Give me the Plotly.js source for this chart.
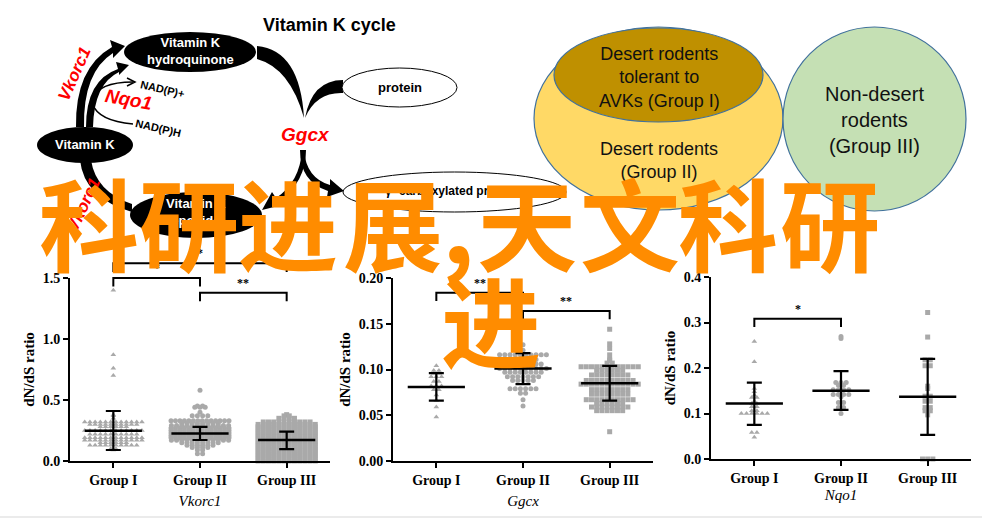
<!DOCTYPE html>
<html><head><meta charset="utf-8">
<script src="https://cdn.plot.ly/plotly-3.0.1.min.js"></script>
<style>html,body{margin:0;padding:0;background:#fff}#chart{width:982px;height:518px}</style>
</head><body><div id="chart"></div>
<script>
// ---------------- DATA ----------------
const groups = ['Group I', 'Group II', 'Group III'];
const genes = ['Vkorc1', 'Ggcx', 'Nqo1'];
const yLabel = 'dN/dS ratio';

// Vkorc1 dN/dS values per group
const vkorc1_G1 = [1.40,0.87,0.76,0.70,0.38,0.37,0.35,
0.32,0.32,0.32,0.32,0.32,0.32,0.32,0.32,0.32,0.32,0.32,0.32,
0.30,0.30,0.30,0.30,0.30,0.30,0.30,0.30,0.30,0.30,
0.28,0.28,0.28,0.28,0.28,0.28,
0.25,0.25,0.25,0.25,0.25,0.25,0.25,0.25,0.25,0.25,0.25,0.25,
0.22,0.22,0.22,0.22,0.22,0.22,0.22,0.22,0.22,0.22,
0.19,0.19,0.19,0.19,0.19,0.19,0.19,0.19,0.19,0.19,0.19,0.19,
0.17,0.17,0.17,0.17,0.17,0.17,0.17,0.17,0.17,0.17,0.17,0.17,
0.15,0.15,0.15,0.15,0.15,0.15,
0.13,0.13,0.13,0.13,0.13,0.13,0.13,0.13,0.13,0.13,
0.10,0.10,0.09];
const vkorc1_G2 = [0.58,0.45,0.45,0.44,0.44,0.44,0.40,0.37,0.37,0.37,0.37,
0.33,0.33,0.33,0.33,0.33,0.33,0.33,0.33,0.33,0.33,0.33,0.33,0.33,0.33,
0.31,0.31,0.31,0.31,0.31,0.31,0.31,0.31,
0.29,0.29,0.29,0.29,0.29,0.29,0.29,0.29,0.29,0.29,0.29,0.29,
0.27,0.27,0.27,0.27,0.27,0.27,0.27,0.27,0.27,0.27,0.27,0.27,0.27,0.27,
0.25,0.25,0.25,0.25,0.25,0.25,0.25,0.25,0.25,0.25,0.25,0.25,0.25,0.25,
0.23,0.23,0.23,0.23,0.23,0.23,0.23,0.23,0.23,0.23,0.23,0.23,0.23,0.23,
0.21,0.21,0.21,0.21,0.21,0.21,0.21,0.21,0.21,0.21,0.21,0.21,0.21,0.21,
0.19,0.19,0.19,0.19,0.19,0.19,0.19,0.19,0.19,0.19,0.19,0.19,0.19,0.19,
0.17,0.17,0.17,0.17,0.17,0.17,0.17,0.17,0.17,0.17,0.17,0.17,
0.15,0.15,0.15,0.15,0.15,0.15,0.15,0.15,
0.13,0.13,0.13,0.13,0.13,0.13,
0.11,0.11,0.11,0.11,
0.09,0.09,0.06,0.06];
const vkorc1_G3 = [0.38,0.37,0.37,
0.35,0.35,0.35,0.35,
0.32,0.32,0.32,0.32,0.32,0.32,0.32,0.32,0.32,0.32,
0.30,0.30,0.30,0.30,0.30,0.30,0.30,0.30,0.30,0.30,0.30,0.30,
0.28,0.28,0.28,0.28,0.28,0.28,0.28,0.28,0.28,0.28,0.28,0.28,
0.26,0.26,0.26,0.26,0.26,0.26,0.26,0.26,0.26,0.26,0.26,0.26,
0.24,0.24,0.24,0.24,0.24,0.24,0.24,0.24,0.24,0.24,0.24,0.24,
0.22,0.22,0.22,0.22,0.22,0.22,0.22,0.22,0.22,0.22,0.22,0.22,
0.20,0.20,0.20,0.20,0.20,0.20,0.20,0.20,0.20,0.20,0.20,0.20,
0.18,0.18,0.18,0.18,0.18,0.18,0.18,0.18,0.18,0.18,0.18,0.18,
0.16,0.16,0.16,0.16,0.16,0.16,0.16,0.16,0.16,0.16,0.16,0.16,
0.14,0.14,0.14,0.14,0.14,0.14,0.14,0.14,0.14,0.14,0.14,0.14,
0.12,0.12,0.12,0.12,0.12,0.12,0.12,0.12,0.12,0.12,0.12,0.12,
0.10,0.10,0.10,0.10,0.10,0.10,0.10,0.10,0.10,0.10,0.10,0.10,
0.08,0.08,0.08,0.08,0.08,0.08,0.08,0.08,0.08,0.08,0.08,0.08,
0.06,0.06,0.06,0.06,0.06,0.06,0.06,0.06,0.06,0.06,0.06,0.06,
0.04,0.04,0.04,0.04,0.04,0.04,0.04,0.04,0.04,0.04,0.04,0.04,
0.02,0.02,0.02,0.02,0.02,0.02,0.02,0.02,0.02,0.02,0.02,0.02,
0.00,0.00,0.00,0.00,0.00,0.00,0.00,0.00,0.00,0.00,0.00,0.00];
const vkorc1_mean = [0.247, 0.226, 0.172];
const vkorc1_lo   = [0.090, 0.172, 0.098];
const vkorc1_hi   = [0.410, 0.280, 0.240];

// Ggcx dN/dS values per group
const ggcx_G1 = [0.104,0.099,0.099,0.096,0.096,0.092,0.092,0.092,0.087,0.087,
0.082,0.082,0.082,0.078,0.078,0.072,0.066,0.059,0.048];
const ggcx_G2 = [0.147,0.127,0.121,
0.116,0.116,0.116,0.116,0.116,0.116,0.116,0.116,0.116,0.116,
0.111,0.111,0.111,0.111,0.111,0.111,
0.106,0.106,0.106,0.106,0.106,0.106,0.106,0.106,
0.101,0.101,0.101,0.101,0.101,0.101,0.101,0.101,0.101,0.101,
0.097,0.097,0.097,0.097,0.097,0.097,0.097,0.097,
0.092,0.092,0.092,0.092,0.092,0.092,0.092,
0.088,0.088,0.088,0.088,0.088,
0.079,0.079,0.079,0.079,0.079,0.079,
0.074,0.074,0.067,0.060];
const ggcx_G3 = [0.144,0.128,0.123,0.116,0.111,0.110,0.107,0.107,
0.103,0.103,0.103,0.103,0.103,0.103,0.103,0.103,0.103,0.103,0.103,0.103,
0.099,0.099,0.099,0.099,0.099,0.099,
0.094,0.094,0.094,0.094,0.094,0.094,0.094,0.094,
0.088,0.088,0.088,0.088,0.088,0.088,0.088,0.088,0.088,0.088,
0.084,0.084,0.084,0.084,0.084,0.084,0.084,0.084,0.084,0.084,0.084,0.084,
0.078,0.078,0.078,0.078,0.078,0.078,0.078,0.078,
0.073,0.073,0.073,0.073,0.073,0.073,0.073,0.073,
0.067,0.067,0.067,0.067,0.067,0.067,0.067,0.067,0.067,0.067,
0.063,0.063,0.063,0.063,0.063,0.063,
0.059,0.059,0.059,0.059,0.059,0.059,0.059,0.059,
0.055,0.055,0.055,0.055,0.055,0.055,
0.032];
const ggcx_mean = [0.081, 0.101, 0.085];
const ggcx_lo   = [0.066, 0.084, 0.066];
const ggcx_hi   = [0.096, 0.118, 0.104];

// Nqo1 dN/dS values per group
const nqo1_G1 = [0.258,0.214,0.155,0.148,0.140,0.135,0.135,0.127,0.122,0.122,
0.115,0.115,0.106,0.106,0.100,0.100,0.100,0.100,0.100,0.100,0.058,0.058,0.048];
const nqo1_G2 = [0.269,0.265,0.168,0.168,0.168,0.162,0.162,0.152,0.152,0.152,0.152,
0.142,0.142,0.142,0.142,0.137,0.124,0.124,0.113,0.113,0.100];
const nqo1_G3 = [0.322,0.268,0.218,0.218,0.205,0.205,0.160,0.155,0.138,0.138,
0.127,0.127,0.113,0.113,0.106,0.106,0.097,0.000,0.000,0.000];
const nqo1_mean = [0.122, 0.150, 0.137];
const nqo1_lo   = [0.075, 0.108, 0.053];
const nqo1_hi   = [0.168, 0.193, 0.220];

// significance brackets (group a to group b, level, leg drop, label)
const vkorc1_sig = [{a:0,b:2,y:1.62,drop:0.07,label:'*'},{a:0,b:1,y:1.50,drop:0.07,label:'*'},{a:1,b:2,y:1.38,drop:0.07,label:'**'}];
const ggcx_sig = [{a:0,b:1,y:0.184,drop:0.009,label:'**'},{a:1,b:2,y:0.164,drop:0.009,label:'**'}];
const nqo1_sig = [{a:0,b:1,y:0.308,drop:0.018,label:'*'}];

const yMax = [1.5, 0.2, 0.4];
const yTickVals = [[0,0.5,1.0,1.5],[0,0.05,0.10,0.15,0.20],[0,0.1,0.2,0.3,0.4]];
const yTickText = [['0.0','0.5','1.0','1.5'],['0.00','0.05','0.10','0.15','0.20'],['0.0','0.1','0.2','0.3','0.4']];

// Diagram / Venn / banner texts
const cycleTitle = 'Vitamin K cycle';
const vennTexts = ['Desert rodents<br>tolerant to<br>AVKs (Group I)', 'Desert rodents<br>(Group II)', 'Non-desert<br>rodents<br>(Group III)'];
const bannerChars = ['科','研','进','展',',','天','文','科','研','进'];

// ---------------- LAYOUT / STYLE ----------------
const W = 982, H = 518;
const panelPos = [
  {xa:'x',  ya:'y',  left:70,  right:330, bottom:461, top:278, xTitleStandoff:9},
  {xa:'x2', ya:'y2', left:393, right:653, bottom:461, top:278, xTitleStandoff:9},
  {xa:'x3', ya:'y3', left:711, right:971, bottom:459, top:277, xTitleStandoff:5}
];
const sets = [
  {vals:[vkorc1_G1,vkorc1_G2,vkorc1_G3], mean:vkorc1_mean, lo:vkorc1_lo, hi:vkorc1_hi, sig:vkorc1_sig},
  {vals:[ggcx_G1,ggcx_G2,ggcx_G3], mean:ggcx_mean, lo:ggcx_lo, hi:ggcx_hi, sig:ggcx_sig},
  {vals:[nqo1_G1,nqo1_G2,nqo1_G3], mean:nqo1_mean, lo:nqo1_lo, hi:nqo1_hi, sig:nqo1_sig}
];
const symbols = ['triangle-up','circle','square'];
const grey = '#a9a9a9';
const serif = 'Liberation Serif';
const sans = 'Liberation Sans';

function pxX(p, v){ const P = panelPos[p]; return P.left + (v + 0.5) / 3 * (P.right - P.left); }
function pxY(p, v){ const P = panelPos[p]; return P.bottom - v / yMax[p] * (P.bottom - P.top); }

// spread points sharing the same value side by side (dot-plot rows)
function swarm(values, center, pxPerUnit){
  const rows = new Map();
  values.forEach(v => { const k = v.toFixed(4); if(!rows.has(k)) rows.set(k, []); rows.get(k).push(v); });
  const xs = [], ys = [];
  rows.forEach(arr => {
    const n = arr.length;
    const sp = n > 1 ? Math.min(5.2, 58 / (n - 1)) : 0;
    arr.forEach((v, i) => { xs.push(center + (i - (n - 1) / 2) * sp / pxPerUnit); ys.push(v); });
  });
  return {xs, ys};
}

const traces = [];
const layout = {
  width: W, height: H, margin:{l:0,r:0,t:0,b:0},
  paper_bgcolor:'#ffffff', plot_bgcolor:'rgba(0,0,0,0)',
  showlegend:false, shapes:[], annotations:[],
  font:{family:sans, color:'#000'}
};

panelPos.forEach((P, p) => {
  const S = sets[p];
  const pxPerUnit = (P.right - P.left) / 3;
  S.vals.forEach((vals, g) => {
    const sw = swarm(vals, g, pxPerUnit);
    traces.push({type:'scatter', mode:'markers', x:sw.xs, y:sw.ys, xaxis:P.xa, yaxis:P.ya,
      marker:{symbol:symbols[g], size:5, color:grey, line:{width:0}}, cliponaxis:false, hoverinfo:'skip'});
  });
  // mean lines
  const mx = [], my = [];
  S.mean.forEach((m, g) => { mx.push(g - 0.33, g + 0.33, null); my.push(m, m, null); });
  traces.push({type:'scatter', mode:'lines', x:mx, y:my, xaxis:P.xa, yaxis:P.ya,
    line:{color:'#000', width:2.5}, hoverinfo:'skip', cliponaxis:false});
  // SD error bars
  traces.push({type:'scatter', mode:'markers', x:[0,1,2], y:S.mean, xaxis:P.xa, yaxis:P.ya,
    marker:{size:1, color:'rgba(0,0,0,0)'}, hoverinfo:'skip',
    error_y:{type:'data', symmetric:false, array:S.hi.map((h,i)=>h - S.mean[i]),
      arrayminus:S.mean.map((m,i)=>m - S.lo[i]), color:'#000', thickness:2.2, width:7.5}});

  const sfx = p ? String(p + 1) : '';
  layout['xaxis' + sfx] = {domain:[P.left / W, P.right / W], range:[-0.5, 2.5], anchor:P.ya,
    showline:true, linecolor:'#000', linewidth:2, ticks:'outside', ticklen:5, tickwidth:2, tickcolor:'#000',
    tickvals:[0,1,2], ticktext:groups, showgrid:false, zeroline:false, fixedrange:true,
    tickfont:{family:serif, size:14, color:'#000', weight:'bold'},
    title:{text:'<i>' + genes[p] + '</i>', font:{family:serif, size:15, color:'#000'}, standoff:P.xTitleStandoff}};
  layout['yaxis' + sfx] = {domain:[1 - P.bottom / H, 1 - P.top / H], range:[0, yMax[p]], anchor:P.xa,
    showline:true, linecolor:'#000', linewidth:2, ticks:'outside', ticklen:5, tickwidth:2, tickcolor:'#000',
    tickvals:yTickVals[p], ticktext:yTickText[p], showgrid:false, zeroline:false, fixedrange:true,
    tickfont:{family:serif, size:14, color:'#000', weight:'bold'},
    title:{text:yLabel, font:{family:serif, size:15, color:'#000', weight:'bold'}, standoff:4}};

  // significance brackets (pixel overlay computed from data)
  S.sig.forEach(s => {
    const xa = pxX(p, s.a), xb = pxX(p, s.b), yl = pxY(p, s.y), yd = pxY(p, s.y - s.drop);
    layout.shapes.push({type:'path', xref:'x4', yref:'y4', layer:'above',
      path:`M ${xa} ${yd} L ${xa} ${yl} L ${xb} ${yl} L ${xb} ${yd}`, line:{color:'#000', width:2}});
    layout.annotations.push({xref:'x4', yref:'y4', x:(xa + xb) / 2, y:yl - 1, yanchor:'bottom', showarrow:false,
      text:s.label, font:{family:serif, size:12, color:'#000', weight:'bold'}});
  });
});

// overlay pixel axes for the illustration
layout.xaxis4 = {domain:[0,1], range:[0,W], visible:false, fixedrange:true, anchor:'y4'};
layout.yaxis4 = {domain:[0,1], range:[H,0], visible:false, fixedrange:true, anchor:'x4'};
traces.push({type:'scatter', mode:'markers', x:[], y:[], xaxis:'x4', yaxis:'y4', hoverinfo:'skip'});

const shp = o => Object.assign({xref:'x4', yref:'y4', layer:'above'}, o);
const blk = {color:'#000', width:0};
layout.shapes.unshift(
  // Venn diagram
  shp({type:'circle', x0:534, x1:783, y0:27, y1:210, fillcolor:'#FFD966', line:{color:'#41719C', width:1.2}}),
  shp({type:'circle', x0:554, x1:763, y0:28, y1:122, fillcolor:'#BF9000', line:{color:'#41719C', width:1.2}}),
  shp({type:'circle', x0:783, x1:966, y0:27, y1:211, fillcolor:'#C5E0B4', line:{color:'#41719C', width:1.2}}),
  // vitamin K cycle arrows
  shp({type:'path', path:'M 76 127 Q 75 68 112 47 L 110 40 L 125 46 L 113 58 L 113 53 Q 83 72 84 127 Z', fillcolor:'#000', line:blk}),
  shp({type:'path', path:'M 86 127 Q 86 80 118 69 L 116 62 L 129 65 L 119 75 L 119 72 Q 94 84 93 127 Z', fillcolor:'#000', line:blk}),
  shp({type:'path', path:'M 92 100 Q 98 82 133 82', line:{color:'#000', width:1.5}}),
  shp({type:'path', path:'M 127 78 L 135 82 L 127 86', line:{color:'#000', width:1.5}}),
  shp({type:'path', path:'M 92 103 Q 98 121 133 124', line:{color:'#000', width:1.5}}),
  shp({type:'path', path:'M 257 46 Q 300 50 304 118 Q 290 68 257 59 Z', fillcolor:'#000', line:blk}),
  shp({type:'path', path:'M 343 80 Q 312 80 305 118 Q 316 92 343 93 Z', fillcolor:'#000', line:blk}),
  shp({type:'path', path:'M 304 150 Q 306 178 330 185 L 330 179 L 344 191 L 327 197 L 328 191 Q 300 182 300 150 Z', fillcolor:'#000', line:blk}),
  shp({type:'path', path:'M 302 150 Q 300 182 276 198 L 272 192 L 262 210 L 282 205 L 279 201 Q 306 182 306 150 Z', fillcolor:'#000', line:blk}),
  shp({type:'path', path:'M 80 160 Q 84 198 132 212 L 132 204 Q 96 192 91 160 Z', fillcolor:'#000', line:blk}),
  // ellipses
  shp({type:'circle', x0:124, x1:256, y0:32, y1:72, fillcolor:'#000', line:blk}),
  shp({type:'circle', x0:37, x1:133, y0:127, y1:163, fillcolor:'#000', line:blk}),
  shp({type:'circle', x0:130, x1:262, y0:192, y1:238, fillcolor:'#000', line:blk}),
  shp({type:'circle', x0:342, x1:457, y0:68, y1:107, fillcolor:'#fff', line:{color:'#000', width:1}}),
  shp({type:'circle', x0:343, x1:566, y0:172, y1:212, fillcolor:'rgba(255,255,255,0)', line:{color:'#000', width:1}}),
  // bottom rule
  shp({type:'line', x0:0, x1:W, y0:517, y1:517, line:{color:'#ebebeb', width:2}})
);

const ann = (x, y, text, font, extra) => Object.assign({xref:'x4', yref:'y4', x, y, text, showarrow:false,
  xanchor:'center', yanchor:'middle', font}, extra || {});
const diagramAnns = [
  ann(329, 25, cycleTitle, {family:sans, size:18, color:'#000', weight:'bold'}),
  ann(190, 51, 'Vitamin K<br>hydroquinone', {family:sans, size:13, color:'#fff', weight:'bold'}),
  ann(85, 144, 'Vitamin K', {family:sans, size:13, color:'#fff', weight:'bold'}),
  ann(196, 212, 'Vitamin K<br>epoxide', {family:sans, size:13, color:'#fff', weight:'bold'}),
  ann(400, 87, 'protein', {family:sans, size:13, color:'#000', weight:'bold'}),
  ann(451, 191, 'γ- carboxylated protein', {family:sans, size:12, color:'#000', weight:'bold'}),
  ann(74, 74, '<i>Vkorc1</i>', {family:sans, size:17, color:'#ff0000', weight:'bold'}, {textangle:-66}),
  ann(83, 205, '<i>Vkorc1</i>', {family:sans, size:17, color:'#ff0000', weight:'bold'}, {textangle:-65}),
  ann(129, 99, '<i>Nqo1</i>', {family:sans, size:19, color:'#ff0000', weight:'bold'}, {textangle:10}),
  ann(305, 134, '<i>Ggcx</i>', {family:sans, size:19, color:'#ff0000', weight:'bold'}),
  ann(162, 89, 'NAD(P)+', {family:sans, size:11, color:'#000', weight:'bold'}, {textangle:13}),
  ann(158, 128, 'NAD(P)H', {family:sans, size:11, color:'#000', weight:'bold'}, {textangle:13}),
  ann(659, 77, vennTexts[0], {family:sans, size:18, color:'#111'}),
  ann(659, 160, vennTexts[1], {family:sans, size:18, color:'#111'}),
  ann(874, 120, vennTexts[2], {family:sans, size:20, color:'#111'})
];
layout.annotations = diagramAnns.concat(layout.annotations);

// orange banner text on top
const bannerX = [89, 189, 288, 393, 458, 527, 630, 728, 830, 491];
const bannerY = [220, 220, 220, 220, 220, 220, 220, 220, 220, 317];
bannerChars.forEach((c, i) => {
  layout.annotations.push(ann(bannerX[i], bannerY[i], c,
    {family:'Noto Sans CJK SC', size:100, color:'#FF8C00', weight:'bold'}));
});

Plotly.newPlot('chart', traces, layout, {staticPlot:true, displayModeBar:false});
</script></body></html>
